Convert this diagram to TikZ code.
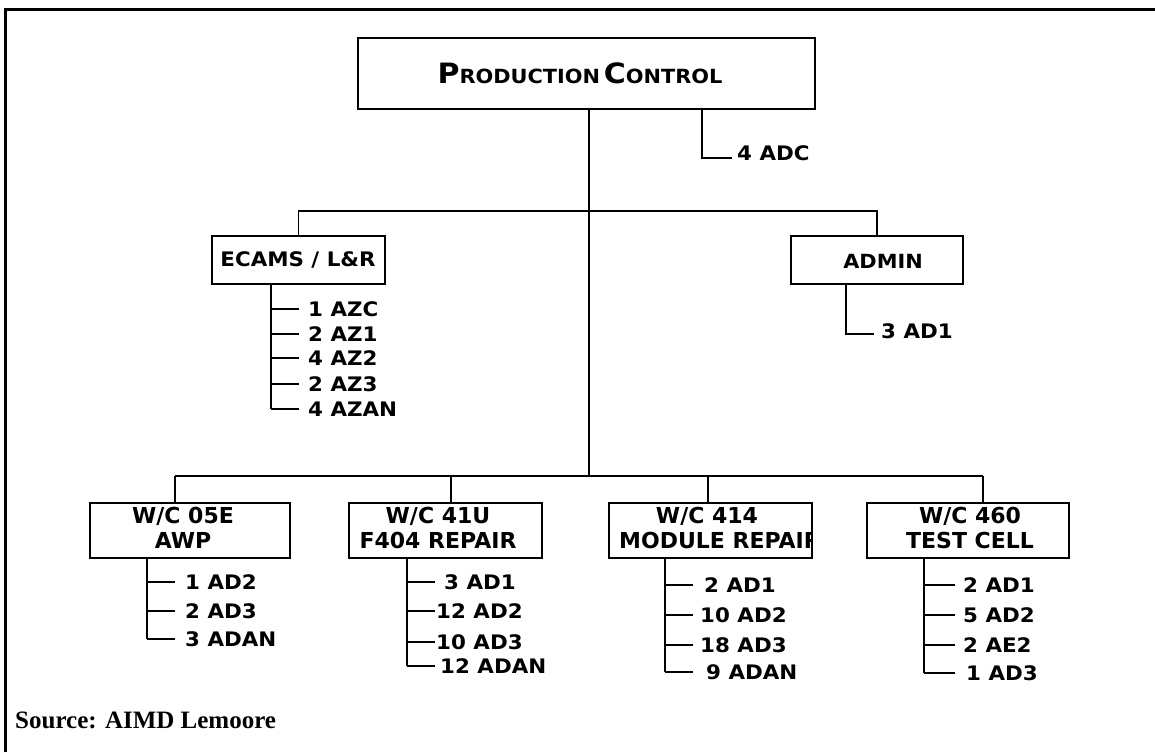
\documentclass[tikz,border=0pt]{standalone}
\usepackage{fontspec}
\newfontfamily\heavysans{DejaVu Sans Bold}[FakeStretch=1.07]
\newfontfamily\titlesans{DejaVu Sans Bold}
\newfontfamily\srcserif{Liberation Serif Bold}
\newcommand\pcbig[1]{{\fontsize{28}{30}\selectfont #1}}
\newcommand\pcsmall[1]{{\fontsize{19.5}{30}\selectfont #1}}
\begin{document}
\begin{tikzpicture}[x=1pt,y=-1pt,
  conn/.style={line width=1.8pt},
  box/.style={draw, line width=1.8pt, inner sep=0pt},
  ttl/.style={font=\titlesans\fontsize{22}{25}\selectfont, align=center, inner sep=0pt},
  lbl/.style={font=\heavysans\fontsize{20}{24}\selectfont, anchor=west, inner sep=0pt},
  src/.style={font=\srcserif\fontsize{25}{28}\selectfont, anchor=west, inner sep=0pt}]
\useasboundingbox (0,0) rectangle (1155,752);
% frame
\draw[line width=3pt] (5,752) -- (5,9.5) -- (1155,9.5);

% top box
\node[box, minimum width=457pt, minimum height=71pt] (pc) at (586.5,73.5) {};
\node[inner sep=0pt, font=\heavysans] (pct) at (580,73) {\pcbig{P}\pcsmall{RODUCTION} \pcbig{C}\pcsmall{ONTROL}};

% 4 ADC
\coordinate (pcv) at (702,158);
\node[lbl] (adc) at (737,153) {4 ADC};
\draw[conn] (pcv |- pc.south) -- (pcv) -- (732,158);

% second level boxes
\node[box, minimum width=173pt, minimum height=48pt] (ec) at (298.5,260) {};
\node[ttl, font=\heavysans\fontsize{20}{25}\selectfont] (ect) at (298,260) {ECAMS / L\&R};
\node[box, minimum width=172pt, minimum height=48pt] (ad) at (877,260) {};
\node[ttl, font=\heavysans\fontsize{19.5}{25}\selectfont] (adt) at (883,261) {ADMIN};

% trunk and upper bus
\coordinate (tb) at (589,476);
\coordinate (ub) at (589,211);
\draw[conn] (pc.south -| tb) -- (tb);
\draw[conn] (ec.north) -- (ec.north |- ub) -- (ad.north |- ub) -- (ad.north);

% ECAMS list
\draw[conn] (271,284) -- (271,409);
\foreach \yy/\tt [count=\i] in {309/1 AZC, 334/2 AZ1, 358/4 AZ2, 384/2 AZ3, 409/4 AZAN} {
  \node[lbl] (ecl\i) at (308,\yy) {\tt};
  \draw[conn] (271,\yy) -- (299,\yy);
}

% ADMIN list
\coordinate (adv) at (846,334);
\node[lbl] (ad1) at (881,331) {3 AD1};
\draw[conn] (adv |- ad.south) -- (adv) -- (874,334);

% bottom boxes
\node[box, minimum width=200pt, minimum height=55pt] (b1) at (190,530.5) {};
\node[box, minimum width=193pt, minimum height=55pt] (b2) at (445.5,530.5) {};
\node[box, minimum width=203pt, minimum height=55pt] (b3) at (710.5,530.5) {};
\node[box, minimum width=202pt, minimum height=55pt] (b4) at (968,530.5) {};

\node[ttl] (b1t) at (183,528) {W/C 05E\\AWP};
\node[ttl] (b2t) at (438,528) {W/C 41U\\F404 REPAIR};
\begin{scope}
  \clip (b3.south west) rectangle (b3.north east);
  \node[ttl] (b3t) at (707,528) {W/C 414\\\phantom{W}};
  \node[ttl, anchor=west] (b3u) at (619,540) {MODULE REPAIR};
\end{scope}
\node[ttl] (b4t) at (970,528) {W/C 460\\TEST CELL};

% lower bus
\coordinate (d1) at (175,476);
\coordinate (d2) at (451,476);
\coordinate (d3) at (708,476);
\coordinate (d4) at (983,476);
\draw[conn] (d1) -- (d4);
\draw[conn] (d1) -- (d1 |- b1.north);
\draw[conn] (d2) -- (d2 |- b2.north);
\draw[conn] (d3) -- (d3 |- b3.north);
\draw[conn] (d4) -- (d4 |- b4.north);

% box 1 list
\draw[conn] (147,557) -- (147,639);
\foreach \yy/\tt [count=\i] in {582/1 AD2, 611/2 AD3, 639/3 ADAN} {
  \node[lbl] (l1\i) at (185,\yy) {\tt};
  \draw[conn] (147,\yy) -- (175,\yy);
}
% box 2 list
\draw[conn] (407,557) -- (407,666);
\foreach \yy/\xx/\tt [count=\i] in {582/444/3 AD1, 611/436/12 AD2, 642/436/10 AD3, 666/440/12 ADAN} {
  \node[lbl] (l2\i) at (\xx,\yy) {\tt};
  \draw[conn] (407,\yy) -- (435,\yy);
}
% box 3 list
\draw[conn] (665,557) -- (665,672);
\foreach \yy/\xx/\tt [count=\i] in {585/704/2 AD1, 615/700/10 AD2, 645/700/18 AD3, 672/706/9 ADAN} {
  \node[lbl] (l3\i) at (\xx,\yy) {\tt};
  \draw[conn] (665,\yy) -- (693,\yy);
}
% box 4 list
\draw[conn] (924,557) -- (924,673);
\foreach \yy/\xx/\tt [count=\i] in {585/963/2 AD1, 615/963/5 AD2, 645/963/2 AE2, 673/966/1 AD3} {
  \node[lbl] (l4\i) at (\xx,\yy) {\tt};
  \draw[conn] (924,\yy) -- (955,\yy);
}

% source
\node[src] (srcn) at (15,720) {Source: AIMD Lemoore};
\end{tikzpicture}
\end{document}
